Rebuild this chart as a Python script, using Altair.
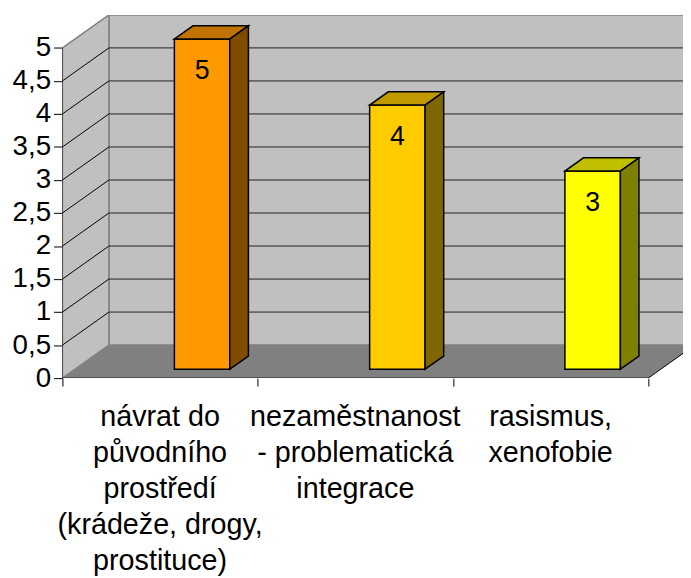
import altair as alt
import pandas as pd

# ---------------- data ----------------
categories = [
    "návrat do\npůvodního\nprostředí\n(krádeže, drogy,\nprostituce)",
    "nezaměstnanost\n- problematická\nintegrace",
    "rasismus,\nxenofobie",
]
values = [5, 4, 3]
front_colors = ["#FF9900", "#FFCC00", "#FFFF00"]
top_colors = ["#C07300", "#C09900", "#C0C000"]
side_colors = ["#7F4C00", "#7F6600", "#808000"]
y_ticks = [0, 0.5, 1, 1.5, 2, 2.5, 3, 3.5, 4, 4.5, 5]
x_ticks = [0, 1, 2, 3]

# ---------------- 3D geometry (style constants) ----------------
DX = 0.238      # depth shift along x (category units)
DY = 0.5        # depth shift along y (value units)
YMAX = 5
X_MAX = 3.178   # visible right edge (chart is cut at the right)
BAR_L = 0.509   # bar left offset inside category (floor plane)
BAR_W = 0.284   # bar width
BAR_F = 0.27    # depth fraction of bar front face
BAR_D = 0.40    # depth fraction of bar thickness
n = len(categories)
FONT = "Liberation Sans"

xs = alt.Scale(domain=[0, X_MAX], nice=False, zero=False)
ys = alt.Scale(domain=[0, YMAX + DY], nice=False, zero=False)
x_axis = alt.Axis(values=x_ticks, labels=False, domain=False, grid=False,
                  tickSize=8, tickColor="black", tickWidth=1, title=None)
y_axis = alt.Axis(values=y_ticks, domain=False, grid=False, tickSize=9,
                  tickColor="black", tickWidth=1, title=None,
                  labelExpr="replace(toString(datum.value), '.', ',')",
                  labelFont=FONT, labelFontSize=28, labelColor="black",
                  labelPadding=3)
X = lambda f="x": alt.X(f"{f}:Q", scale=xs, axis=x_axis)
Y = lambda f="y": alt.Y(f"{f}:Q", scale=ys, axis=y_axis, stack=None)

# ---------------- polygons ----------------
walls, floor, bars = [], [], []


def add(lst, pid, fill, px, py, py2):
    for a, b, c in zip(px, py, py2):
        lst.append(dict(pid=pid, fill=fill, x=a, y=b, y2=c))


add(walls, "back", "#C0C0C0", [DX, n + DX], [DY, DY], [YMAX + DY, YMAX + DY])
add(walls, "side", "#C0C0C0", [0, DX], [0, DY], [YMAX, YMAX + DY])
add(floor, "floor", "#808080", [0, DX, n, n + DX], [0, 0, 0, DY], [0, DY, DY, DY])

labels_v = []
for i, v in enumerate(values):
    x0 = i + BAR_L + BAR_F * DX
    x1 = x0 + BAR_W
    B = BAR_F * DY
    T = B + v
    ddx = BAR_D * DX
    ddy = BAR_D * DY
    add(bars, f"f{i}", front_colors[i], [x0, x1], [B, B], [T, T])
    add(bars, f"t{i}", top_colors[i], [x0, x0 + ddx, x1, x1 + ddx],
        [T, T, T, T + ddy], [T, T + ddy, T + ddy, T + ddy])
    add(bars, f"s{i}", side_colors[i], [x1, x1 + ddx], [B, B + ddy], [T, T + ddy])
    labels_v.append(dict(x=(x0 + x1) / 2, y=T, t=str(v)))

rules = []
for v in y_ticks[1:-1]:
    rules.append(dict(x=DX, y=v + DY, x2=n + DX, y2=v + DY, c="#202020"))
    rules.append(dict(x=0, y=v, x2=DX, y2=v + DY, c="#000000"))
rules.append(dict(x=0, y=0, x2=0, y2=YMAX, c="#000000"))
rules.append(dict(x=0, y=0, x2=n, y2=0, c="#000000"))
rules.append(dict(x=n, y=0, x2=n + DX, y2=DY, c="#000000"))

cat_df = pd.DataFrame(dict(x=[i + 0.5 for i in range(n)], y=[0] * n, t=categories))

# ---------------- layers ----------------
wall_layer = alt.Chart(pd.DataFrame(walls)).mark_area(
    stroke="#808080", strokeWidth=1.5, clip=True, interpolate="linear"
).encode(x=X(), y=Y(), y2="y2:Q", detail="pid:N", color=alt.Color("fill:N", scale=None))

floor_layer = alt.Chart(pd.DataFrame(floor)).mark_area(clip=True).encode(
    x=X(), y=Y(), y2="y2:Q", detail="pid:N", color=alt.Color("fill:N", scale=None))

rule_layer = alt.Chart(pd.DataFrame(rules)).mark_rule(strokeWidth=1, clip=True).encode(
    x=X(), y=Y(), x2="x2:Q", y2="y2:Q", color=alt.Color("c:N", scale=None))

bar_layer = alt.Chart(pd.DataFrame(bars)).mark_area(
    stroke="black", strokeWidth=1.5, strokeJoin="miter"
).encode(x=X(), y=Y(), y2="y2:Q", detail="pid:N", color=alt.Color("fill:N", scale=None))

val_layer = alt.Chart(pd.DataFrame(labels_v)).mark_text(
    font=FONT, fontSize=27, dy=40, baseline="alphabetic", align="center", color="black"
).encode(x=X(), y=Y(), text="t:N")

cat_layer = alt.Chart(cat_df).mark_text(
    font=FONT, fontSize=29, dy=48, baseline="alphabetic", align="center",
    lineBreak="\n", lineHeight=36.5, color="black"
).encode(x=X(), y=Y(), text="t:N")

chart = alt.layer(
    wall_layer, floor_layer, rule_layer, bar_layer, val_layer, cat_layer
).properties(
    width=627, height=367,
    autosize=alt.AutoSizeParams(type="none"),
    padding={"left": 55, "top": 4, "right": 0, "bottom": 199},
    background="white",
).configure_view(strokeWidth=0)

chart.save("out.html", embed_options={"renderer": "svg", "actions": False})
